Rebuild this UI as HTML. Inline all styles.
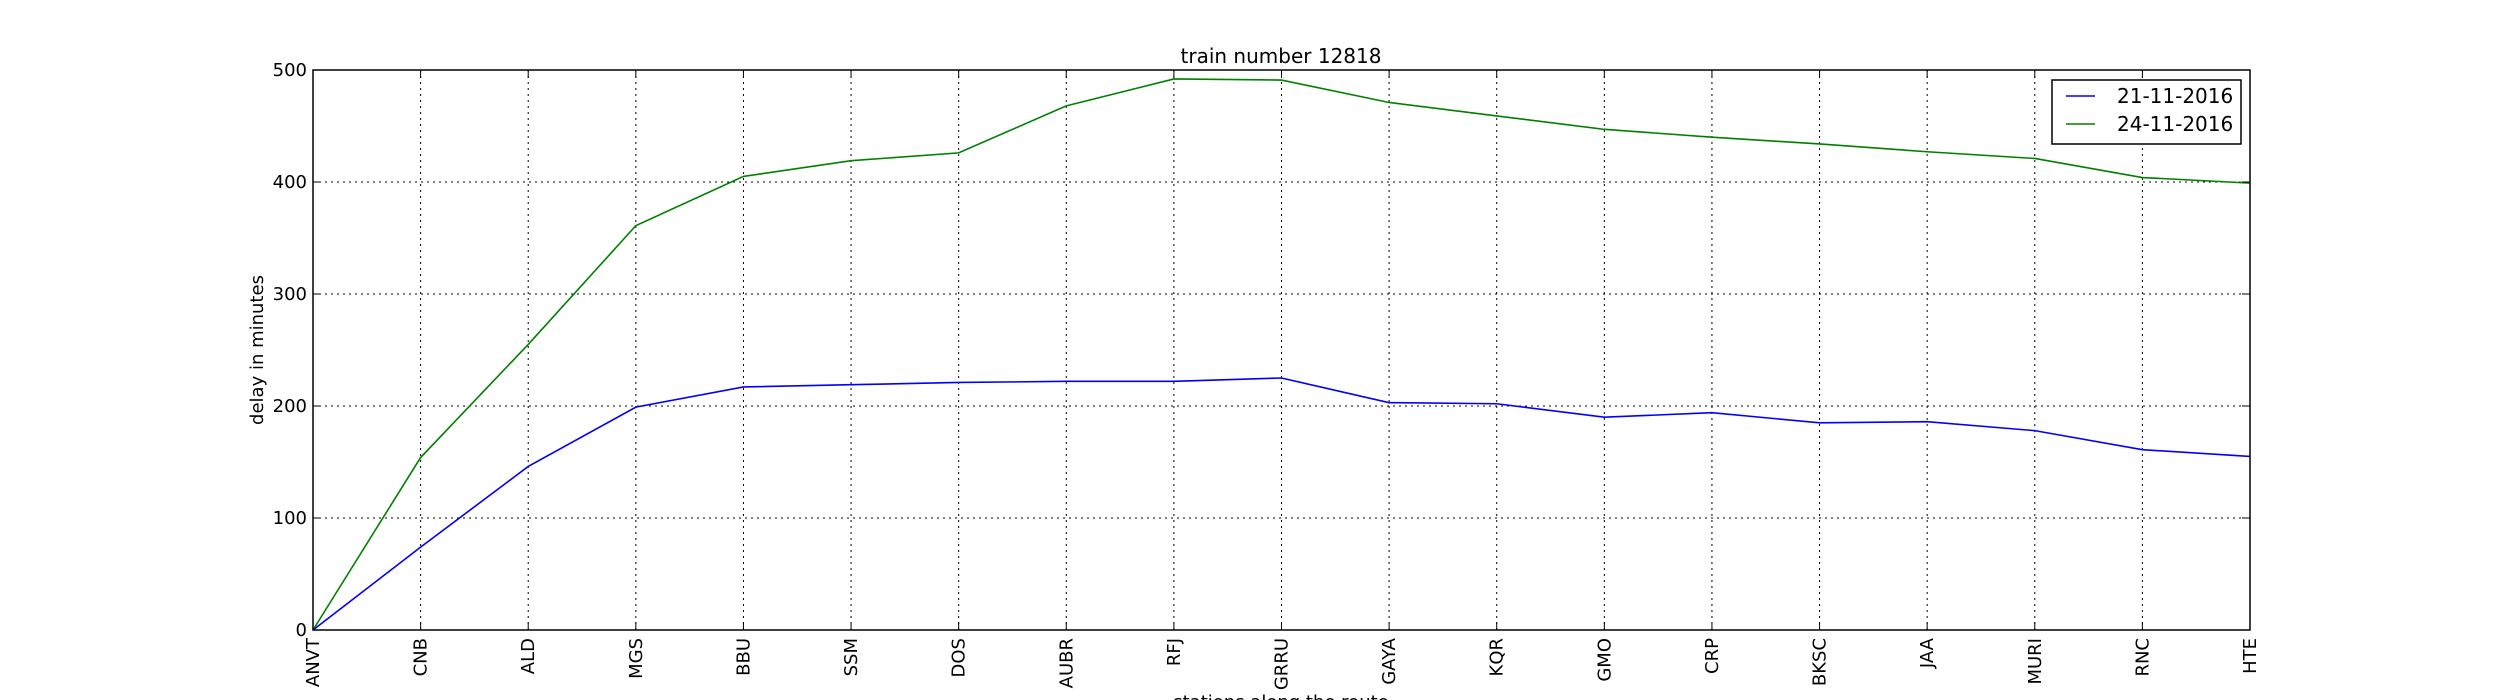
<!DOCTYPE html>
<html><head><meta charset="utf-8"><style>
html,body{margin:0;padding:0;background:#fff;}
svg{display:block;font-family:"DejaVu Sans","Liberation Sans",sans-serif;}
</style></head><body>
<svg id="chart" width="2500" height="700" viewBox="0 0 2500 700">
<rect width="2500" height="700" fill="#fff"/>
<g id="grid"></g>
<g id="series"></g>
<rect x="313" y="70" width="1937" height="560" fill="none" stroke="#000" stroke-width="1.5"/>
<g id="ticks"></g>
<text x="1281" y="63" font-size="20" text-anchor="middle">train number 12818</text>
<text x="1281" y="708" font-size="18" text-anchor="middle">stations along the route</text>
<text transform="translate(263,350) rotate(-90)" font-size="18" text-anchor="middle">delay in minutes</text>
<g>
<rect x="2052" y="80" width="189" height="64" fill="#fff" stroke="#000" stroke-width="1.5"/>
<line x1="2066" y1="96" x2="2095" y2="96" stroke="#0000ff" stroke-width="1.5"/>
<text x="2117" y="103" font-size="20">21-11-2016</text>
<line x1="2066" y1="124" x2="2095" y2="124" stroke="#008000" stroke-width="1.5"/>
<text x="2117" y="131" font-size="20">24-11-2016</text>
</g>
</svg>
<script>
const stations = ["ANVT","CNB","ALD","MGS","BBU","SSM","DOS","AUBR","RFJ","GRRU","GAYA","KQR","GMO","CRP","BKSC","JAA","MURI","RNC","HTE"];
const series21 = [0,74,146,199,217,219,221,222,222,225,203,202,190,194,185,186,178,161,155];
const series24 = [0,154,255,361,405,419,426,468,492,491,471,459,447,440,434,427,421,404,399];
const yTicks = [0,100,200,300,400,500];
const NS="http://www.w3.org/2000/svg";
const L=313,R=2250,T=70,B=630,yMax=500;
function xs(i){return L+(R-L)*i/(stations.length-1);}
function ys(v){return B-(B-T)*v/yMax;}
function mk(tag,attrs,parent){const e=document.createElementNS(NS,tag);for(const k in attrs)e.setAttribute(k,attrs[k]);parent.appendChild(e);return e;}
const grid=document.getElementById('grid'),ticks=document.getElementById('ticks'),ser=document.getElementById('series');
stations.forEach((s,i)=>{
  const x=xs(i);
  if(i>0&&i<stations.length-1){const g=mk('line',{x1:x,y1:T,x2:x,y2:B,stroke:'#000','stroke-width':1,'stroke-dasharray':'2,4'},grid);
  
  }
  const t1=mk('line',{x1:x,y1:B,x2:x,y2:B-8,stroke:'#000','stroke-width':1},ticks);
  
  
  const t2=mk('line',{x1:x,y1:T,x2:x,y2:T+8,stroke:'#000','stroke-width':1},ticks);
  
  
  const lb=mk('text',{transform:`translate(${x+6},638) rotate(-90)`,'font-size':18,'text-anchor':'end'},ticks);
  lb.textContent=s;
  
  
});
yTicks.forEach(v=>{
  const y=ys(v);
  if(v>0&&v<yMax){const g=mk('line',{x1:L,y1:y,x2:R,y2:y,stroke:'#000','stroke-width':1,'stroke-dasharray':'2,4'},grid);
  
  }
  const t1=mk('line',{x1:L,y1:y,x2:L+8,y2:y,stroke:'#000','stroke-width':1},ticks);
  
  
  const t2=mk('line',{x1:R,y1:y,x2:R-8,y2:y,stroke:'#000','stroke-width':1},ticks);
  
  
  const lb=mk('text',{x:L-6,y:y+6,'font-size':18,'text-anchor':'end'},ticks);
  lb.textContent=v;
  
  
});
function draw(vals,color,name){
  const p=mk('polyline',{points:vals.map((v,i)=>xs(i)+','+ys(v)).join(' '),fill:'none',stroke:color,'stroke-width':1.6},ser);
  
  
}
draw(series24,'#008000','line-24-11-2016');
draw(series21,'#0000ff','line-21-11-2016');
</script>
</body></html>
